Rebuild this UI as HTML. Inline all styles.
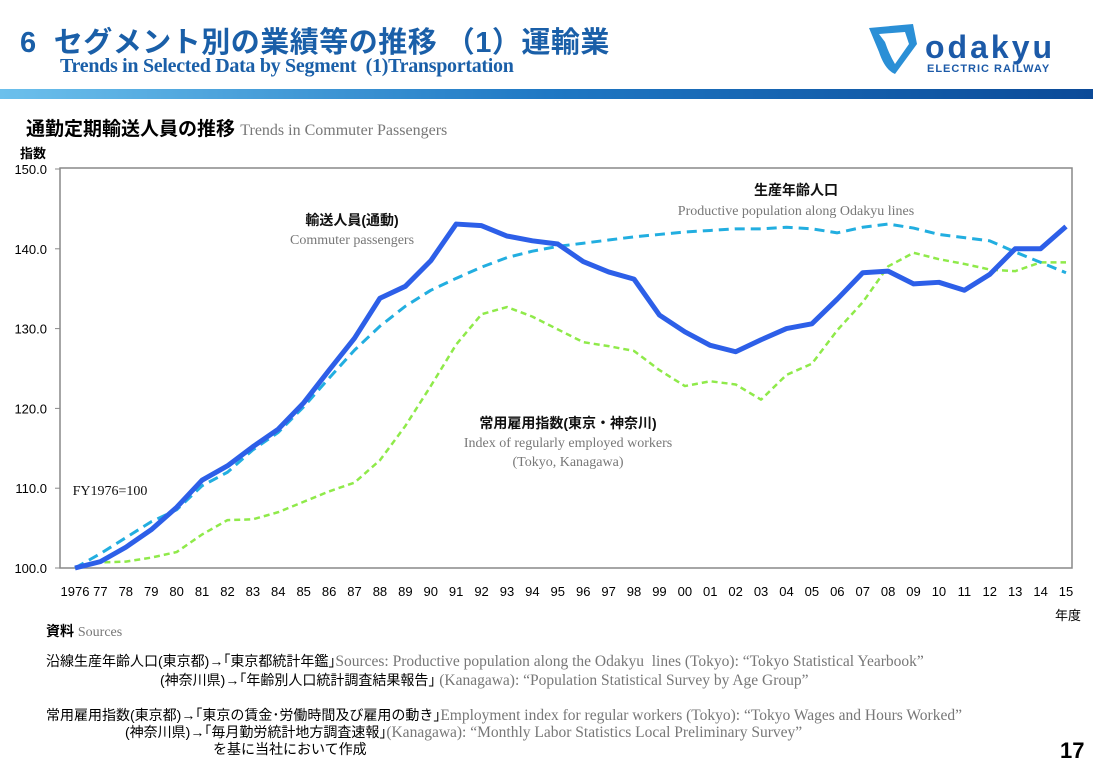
<!DOCTYPE html>
<html><head><meta charset="utf-8"><style>
body{margin:0;width:1093px;height:772px;background:#fff;overflow:hidden;position:relative;font-family:"Liberation Sans","Noto Sans CJK JP",sans-serif}
.a{position:absolute;white-space:nowrap}
.ser{font-family:"Liberation Serif","Noto Serif CJK SC",serif;color:#777}
</style></head><body>
<div class="a" style="left:20px;top:19px;font-size:29px;font-weight:bold;color:#1a5fa8;letter-spacing:0.5px">6&nbsp; セグメント別の業績等の推移 （1）運輸業</div>
<div class="a" style="left:60px;top:55px;font-size:20px;font-weight:bold;color:#1a5fa8;font-family:'Liberation Serif',serif;letter-spacing:-0.3px">Trends in Selected Data by Segment&nbsp; (1)Transportation</div>
<div class="a" style="left:865px;top:22px">
<svg width="215" height="55"><path d="M4 6 L48 2 L52 22 L30 52 Q20 48 14 30 Z" fill="#2a8fd6"/><path d="M14 12 L40 10 L44 22 L30 42 Q24 32 20 20Z" fill="#fff"/>
<text x="60" y="36" font-size="32" font-weight="bold" fill="#1c5aa8" font-family="Liberation Sans" letter-spacing="3">odakyu</text>
<text x="62" y="50" font-size="11" font-weight="bold" fill="#1c5aa8" font-family="Liberation Sans" letter-spacing="1">ELECTRIC RAILWAY</text></svg></div>
<div class="a" style="left:0;top:89px;width:1093px;height:10px;background:linear-gradient(90deg,#6cc0ec,#1f78c4 50%,#0b4a98)"></div>
<div class="a" style="left:26px;top:114px;font-size:19px;font-weight:bold">通勤定期輸送人員の推移 <span class="ser" style="font-size:16px;font-weight:normal">Trends in Commuter Passengers</span></div>
<div class="a" style="left:20px;top:143px;font-size:13px;font-weight:bold">指数</div>
<svg class="a" style="left:0;top:0" width="1093" height="772" id="ch"></svg>
<div class="a" style="left:1055px;top:605px;font-size:13px">年度</div>
<div class="a" style="left:46px;top:621px;font-size:14px;font-weight:bold">資料 <span class="ser" style="font-weight:normal">Sources</span></div>
<div class="a" style="left:46px;top:651px;font-size:14px">沿線生産年齢人口(東京都)→｢東京都統計年鑑｣<span class="ser" style="font-size:15.5px">Sources: Productive population along the Odakyu&nbsp; lines (Tokyo): “Tokyo Statistical Yearbook”</span></div>
<div class="a" style="left:160px;top:670px;font-size:14px">(神奈川県)→｢年齢別人口統計調査結果報告｣ <span class="ser" style="font-size:15.5px">(Kanagawa): “Population Statistical Survey by Age Group”</span></div>
<div class="a" style="left:46px;top:705px;font-size:14px">常用雇用指数(東京都)→｢東京の賃金･労働時間及び雇用の動き｣<span class="ser" style="font-size:15.5px">Employment index for regular workers (Tokyo): “Tokyo Wages and Hours Worked”</span></div>
<div class="a" style="left:125px;top:722px;font-size:14px">(神奈川県)→｢毎月勤労統計地方調査速報｣<span class="ser" style="font-size:15.5px">(Kanagawa): “Monthly Labor Statistics Local Preliminary Survey”</span></div>
<div class="a" style="left:213px;top:739px;font-size:14px">を基に当社において作成</div>
<div class="a" style="left:1060px;top:738px;font-size:22px;font-weight:bold">17</div>
<script>
const years=["1976","77","78","79","80","81","82","83","84","85","86","87","88","89","90","91","92","93","94","95","96","97","98","99","00","01","02","03","04","05","06","07","08","09","10","11","12","13","14","15"];
const commuter=[100,100.8,102.6,104.8,107.6,111.0,112.8,115.2,117.4,120.7,124.8,128.8,133.8,135.3,138.5,143.1,142.9,141.6,141.0,140.6,138.4,137.1,136.2,131.7,129.6,127.9,127.1,128.6,130.0,130.6,133.7,137.0,137.2,135.6,135.8,134.8,136.8,140.0,140.0,142.8];
const population=[100,101.8,103.8,105.8,107.3,110.3,112.0,114.8,117.0,120.2,123.8,127.3,130.3,132.8,134.8,136.3,137.7,138.9,139.7,140.3,140.7,141.1,141.5,141.8,142.1,142.3,142.5,142.5,142.7,142.5,142.0,142.7,143.1,142.6,141.8,141.4,141.0,139.6,138.3,137.0];
const employment=[100,100.7,100.8,101.3,102.0,104.2,106.0,106.1,107.0,108.3,109.6,110.7,113.5,117.8,122.8,128.0,131.8,132.7,131.5,129.9,128.3,127.8,127.2,124.8,122.8,123.4,123.0,121.1,124.2,125.6,129.8,133.3,137.8,139.5,138.7,138.1,137.4,137.2,138.3,138.3];
const yTicks=[100,110,120,130,140,150];
const NS="http://www.w3.org/2000/svg",svg=document.getElementById('ch');
const L=60,R=1072,T=168,B=568;
const x=i=>75+i*(1066-75)/(years.length-1);
const y=v=>B-(v-100)/(150-100)*(B-T-1);
function mk(t,a){const e=document.createElementNS(NS,t);for(const k in a)e.setAttribute(k,a[k]);svg.appendChild(e);return e;}
const fr=mk('rect',{x:L,y:T,width:R-L,height:B-T,fill:'none',stroke:'#888','stroke-width':1.5});


yTicks.forEach(v=>{
 const t=mk('text',{x:47,y:y(v)+5,'font-size':13,'text-anchor':'end','font-family':'Liberation Sans'});t.textContent=v.toFixed(1);
 
 
 mk('line',{x1:L-5,x2:L,y1:y(v),y2:y(v),stroke:'#888'});
});
years.forEach((s,i)=>{
 const t=mk('text',{x:x(i),y:596,'font-size':13,'text-anchor':'middle','font-family':'Liberation Sans'});t.textContent=s;
 
 
});
function line(d,col,w,dash,name){
 const p=mk('polyline',{points:d.map((v,i)=>x(i)+','+y(v)).join(' '),fill:'none',stroke:col,'stroke-width':w,'stroke-dasharray':dash,'stroke-linejoin':'round'});
 
 
}
line(employment,'#8fea4a',2.5,'6,4','employment-line');
line(population,'#22aee0',3,'10,6','population-line');
line(commuter,'#2d5fe8',5,'','commuter-line');
function lab(tx,xx,yy,sz,col,bold,ser,name){const t=mk('text',{x:xx,y:yy,'font-size':sz,fill:col,'text-anchor':'middle','font-weight':bold?'bold':'normal','font-family':ser?'Liberation Serif':'"Liberation Sans","Noto Sans CJK JP"'});t.textContent=tx;
 
 }
lab('輸送人員(通動)',352,225,14,'#111',1,0,'commuter-label-jp');
lab('Commuter passengers',352,244,14,'#777',0,1,'commuter-label-en');
lab('生産年齢人口',796,195,14,'#111',1,0,'population-label-jp');
lab('Productive population along Odakyu lines',796,215,14,'#777',0,1,'population-label-en');
lab('常用雇用指数(東京・神奈川)',568,428,14,'#111',1,0,'employment-label-jp');
lab('Index of regularly employed workers',568,447,14,'#777',0,1,'employment-label-en');
lab('(Tokyo, Kanagawa)',568,466,14,'#777',0,1,'employment-label-en2');
lab('FY1976=100',110,495,14,'#111',0,1,'base-note');
</script>
</body></html>
